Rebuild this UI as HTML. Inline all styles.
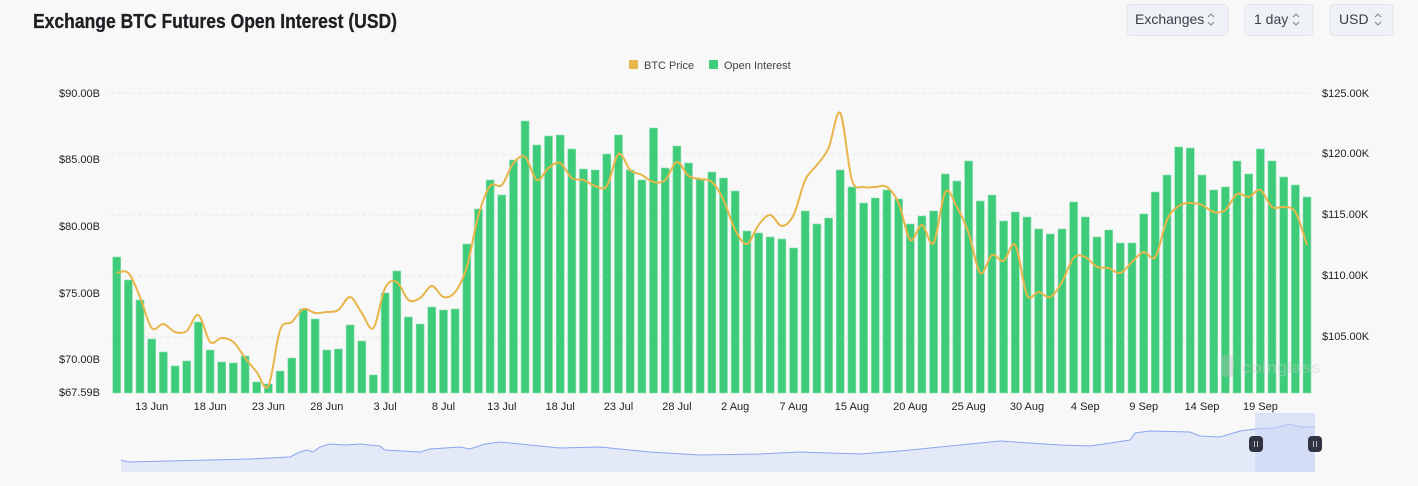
<!DOCTYPE html>
<html><head><meta charset="utf-8"><style>
html,body{margin:0;padding:0;background:#f8f8f8;}
svg{display:block;font-family:"Liberation Sans",sans-serif;}
</style></head><body>
<svg id="c" width="1418" height="486" viewBox="0 0 1418 486" xmlns="http://www.w3.org/2000/svg">
<rect width="1418" height="486" fill="#f8f8f8"/>
<text x="33" y="28" font-size="20" font-weight="bold" fill="#1d1f23" stroke="#1d1f23" stroke-width="0.3" textLength="364" lengthAdjust="spacingAndGlyphs">Exchange BTC Futures Open Interest (USD)</text>
<g font-size="14" fill="#3a3f48">
<rect x="1127" y="4.5" width="101" height="31" rx="4" fill="#eef1f5" stroke="#e1e4e9"/>
<text x="1135" y="24">Exchanges</text>
<rect x="1245" y="4.5" width="68" height="31" rx="4" fill="#eef1f5" stroke="#e1e4e9"/>
<text x="1254" y="24">1 day</text>
<rect x="1330" y="4.5" width="63" height="31" rx="4" fill="#eef1f5" stroke="#e1e4e9"/>
<text x="1339" y="24">USD</text>
</g>
<g fill="none" stroke="#888" stroke-width="1.1">
<path d="M1208,17 l3,-3 l3,3 M1208,22 l3,3 l3,-3"/>
<path d="M1293,17 l3,-3 l3,3 M1293,22 l3,3 l3,-3"/>
<path d="M1375,17 l3,-3 l3,3 M1375,22 l3,3 l3,-3"/>
</g>
<rect x="629" y="60" width="9" height="9" rx="1" fill="#e8b54a"/>
<text x="644" y="69" font-size="11" fill="#444">BTC Price</text>
<rect x="709" y="60" width="9" height="9" rx="1" fill="#3ecc7a"/>
<text x="724" y="69" font-size="11" fill="#444">Open Interest</text>
<g stroke="#e9e9e9" stroke-dasharray="4,3">
<line x1="110" x2="1312" y1="93" y2="93"/><line x1="110" x2="1312" y1="154" y2="154"/>
<line x1="110" x2="1312" y1="215" y2="215"/><line x1="110" x2="1312" y1="276" y2="276"/><line x1="110" x2="1312" y1="337" y2="337"/>
</g>
<g font-size="11" fill="#222" text-anchor="end">
<text x="100" y="97">$90.00B</text><text x="100" y="163">$85.00B</text><text x="100" y="230">$80.00B</text>
<text x="100" y="297">$75.00B</text><text x="100" y="363">$70.00B</text><text x="100" y="396">$67.59B</text>
</g>
<g font-size="11" fill="#222">
<text x="1322" y="97">$125.00K</text><text x="1322" y="157">$120.00K</text><text x="1322" y="218">$115.00K</text>
<text x="1322" y="279">$110.00K</text><text x="1322" y="340">$105.00K</text>
</g>
<g id="bars" fill="#3ecc7a" stroke="#8fe0b2" stroke-width="0.6"></g>
<path id="price" fill="none" stroke="#e8b54a" stroke-width="2"/>
<g font-size="11" fill="#222" text-anchor="middle" id="dates"></g>
<g opacity="0.35"><rect x="1222" y="355" width="12" height="22" rx="4" fill="#bbb"/>
<text x="1242" y="373" font-size="17" font-weight="bold" fill="#ccc">coinglass</text></g>
<path id="navA" fill="#e3e9f6"/>
<path id="navL" fill="none" stroke="#8aa6ee" stroke-width="1"/>
<rect x="1255" y="413" width="60" height="59" fill="#c9d6f7" opacity="0.6"/>
<rect x="1249" y="436" width="14" height="16" rx="4" fill="#2f3342"/>
<rect x="1308" y="436" width="14" height="16" rx="4" fill="#2f3342"/>
<g stroke="#bbb" stroke-width="1"><line x1="1254.5" x2="1254.5" y1="441" y2="447"/><line x1="1257.5" x2="1257.5" y1="441" y2="447"/>
<line x1="1313.5" x2="1313.5" y1="441" y2="447"/><line x1="1316.5" x2="1316.5" y1="441" y2="447"/></g>
</svg>
<script>
var tops=[257,280,300,339,352,366,361,322,350,362,363,356,382,384,371,358,309,319,350,349,325,341,375,293,271,317,324,307,310,309,244,209,180,195,160,121,145,136,135,149,169,170,154,135,170,180,128,168,146,163,179,172,178,191,231,233,237,239,248,211,224,218,170,187,203,198,190,199,224,216,211,174,181,161,201,195,221,212,217,229,234,229,202,217,237,230,243,243,214,192,175,147,148,175,190,187,161,174,149,161,177,185,197];
var pr=[273,273,297,328,324,332,331,315,342,338,342,358,372,386,330,322,309,313,312,310,297,313,328,288,282,300,298,286,297,292,267,215,186,185,163,157,180,168,163,178,180,186,186,154,170,175,182,180,162,176,179,182,200,230,244,225,215,226,215,180,165,148,113,180,187,187,187,203,240,225,243,192,207,233,273,255,261,245,295,292,297,282,258,257,267,268,273,262,252,257,220,206,203,205,212,210,194,197,190,207,207,212,245];
var g=document.getElementById("bars"),s="";
function cx(i){return 112.7+11.67*i+4;}
for(var i=0;i<tops.length;i++){s+='<rect x="'+(112.7+11.67*i).toFixed(1)+'" y="'+tops[i]+'" width="8" height="'+(393-tops[i])+'"/>';}
g.innerHTML=s;
var d="M"+cx(0)+","+pr[0];
for(var i=0;i<pr.length-1;i++){var p0=i>0?i-1:i,p3=i+2<pr.length?i+2:i+1;
var x1=cx(i)+(cx(i+1)-cx(p0))/6,y1=pr[i]+(pr[i+1]-pr[p0])/6,x2=cx(i+1)-(cx(p3)-cx(i))/6,y2=pr[i+1]-(pr[p3]-pr[i])/6;
d+=" C"+x1.toFixed(1)+","+y1.toFixed(1)+" "+x2.toFixed(1)+","+y2.toFixed(1)+" "+cx(i+1).toFixed(1)+","+pr[i+1];}
document.getElementById("price").setAttribute("d",d);
var labs=["13 Jun","18 Jun","23 Jun","28 Jun","3 Jul","8 Jul","13 Jul","18 Jul","23 Jul","28 Jul","2 Aug","7 Aug","15 Aug","20 Aug","25 Aug","30 Aug","4 Sep","9 Sep","14 Sep","19 Sep"];
var ds="";for(var k=0;k<labs.length;k++){ds+='<text x="'+cx(3+5*k).toFixed(1)+'" y="410">'+labs[k]+'</text>';}
document.getElementById("dates").innerHTML=ds;
var np=[[121,460],[128,462],[250,459],[290,457],[300,452],[307,450],[313,452],[320,447],[330,444],[345,445],[360,444],[380,446],[385,450],[420,452],[430,449],[460,447],[470,449],[485,444],[500,442],[530,445],[560,448],[600,447],[650,452],[700,455],[760,454],[800,452],[860,454],[900,451],[950,446],[1000,441],[1060,445],[1090,446],[1130,440],[1135,433],[1150,431],[1190,432],[1200,436],[1220,437],[1240,431],[1255,429],[1275,428],[1290,424],[1300,427],[1315,427]];
var l="M"+np.map(function(p){return p[0]+","+p[1];}).join(" L");
document.getElementById("navL").setAttribute("d",l);
document.getElementById("navA").setAttribute("d",l+" L1315,472 L121,472 Z");
</script>
</body></html>
